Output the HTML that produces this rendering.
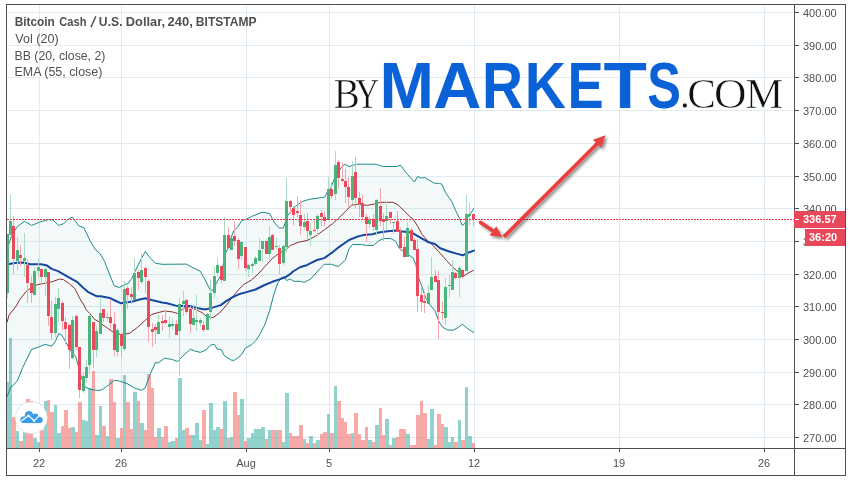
<!DOCTYPE html>
<html><head><meta charset="utf-8"><title>BCH/USD</title>
<style>html,body{margin:0;padding:0;background:#fff;}body{width:852px;height:482px;position:relative;overflow:hidden;font-family:"Liberation Sans",sans-serif;}</style></head>
<body>
<svg width="852" height="482" viewBox="0 0 852 482" style="position:absolute;left:0;top:0;opacity:0.999">
<defs><clipPath id="plot"><rect x="7" y="5" width="787" height="443"/></clipPath><filter id="sh" x="-20%" y="-20%" width="140%" height="140%"><feGaussianBlur in="SourceAlpha" stdDeviation="1.5"/><feOffset dx="1.5" dy="2" result="b"/><feComponentTransfer><feFuncA type="linear" slope="0.45"/></feComponentTransfer><feMerge><feMergeNode/><feMergeNode in="SourceGraphic"/></feMerge></filter><filter id="sh2" x="-20%" y="-20%" width="140%" height="140%"><feGaussianBlur in="SourceAlpha" stdDeviation="1"/><feOffset dx="0" dy="0.5"/><feComponentTransfer><feFuncA type="linear" slope="0.3"/></feComponentTransfer><feMerge><feMergeNode/><feMergeNode in="SourceGraphic"/></feMerge></filter></defs>
<rect width="852" height="482" fill="#fff"/>
<g shape-rendering="crispEdges" fill="#e1ecf2">
<rect x="8" y="12" width="785" height="1"/>
<rect x="8" y="45" width="785" height="1"/>
<rect x="8" y="77" width="785" height="1"/>
<rect x="8" y="110" width="785" height="1"/>
<rect x="8" y="143" width="785" height="1"/>
<rect x="8" y="176" width="785" height="1"/>
<rect x="8" y="208" width="785" height="1"/>
<rect x="8" y="241" width="785" height="1"/>
<rect x="8" y="274" width="785" height="1"/>
<rect x="8" y="306" width="785" height="1"/>
<rect x="8" y="339" width="785" height="1"/>
<rect x="8" y="372" width="785" height="1"/>
<rect x="8" y="404" width="785" height="1"/>
<rect x="8" y="437" width="785" height="1"/>
<rect x="39" y="5" width="1" height="443"/>
<rect x="121" y="5" width="1" height="443"/>
<rect x="246" y="5" width="1" height="443"/>
<rect x="329" y="5" width="1" height="443"/>
<rect x="474" y="5" width="1" height="443"/>
<rect x="619" y="5" width="1" height="443"/>
<rect x="764" y="5" width="1" height="443"/>
</g>
<g clip-path="url(#plot)">
<path d="M7.0,248.0 L8.4,245.2 L11.6,236.2 L14.8,230.3 L17.4,226.5 L24.5,221.3 L31.6,225.4 L40.0,222.0 L48.4,219.6 L52.9,220.0 L58.7,225.4 L63.9,223.6 L68.4,219.1 L72.3,217.0 L78.8,225.8 L83.9,227.8 L90.4,241.3 L95.5,249.7 L100.0,253.6 L104.6,261.3 L106.5,266.5 L114.2,285.8 L119.4,287.5 L124.5,284.5 L127.8,283.9 L131.6,278.7 L135.5,270.3 L141.3,258.7 L145.4,251.4 L149.1,256.8 L155.5,263.2 L162.0,264.3 L186.5,264.1 L193.0,267.8 L200.1,271.0 L205.2,279.9 L210.3,290.2 L212.9,290.2 L216.8,282.4 L220.7,275.3 L225.8,252.7 L228.4,247.6 L229.7,241.6 L233.6,230.7 L237.4,227.4 L242.0,220.3 L245.8,219.4 L251.6,216.5 L262.0,212.2 L269.7,213.5 L274.2,222.3 L279.4,228.1 L283.3,228.1 L287.8,215.2 L295.5,206.1 L303.3,201.0 L309.7,199.3 L324.5,197.1 L327.8,191.3 L331.0,187.4 L334.9,177.1 L341.3,167.4 L345.2,164.2 L349.1,166.5 L356.8,164.2 L376.2,164.2 L382.6,166.5 L396.8,166.5 L400.5,165.2 L407.3,174.2 L414.4,182.0 L417.6,176.4 L421.5,178.1 L424.7,177.4 L434.4,183.3 L439.5,183.3 L442.1,184.5 L445.4,192.3 L451.8,201.5 L455.7,210.7 L459.6,218.4 L462.1,225.3 L464.7,223.6 L467.3,217.8 L470.5,213.9 L473.8,208.1 L474.0,332.6 L468.6,329.4 L462.4,324.2 L458.3,327.4 L453.1,330.3 L447.9,330.0 L442.8,327.4 L438.9,321.6 L435.0,310.7 L429.9,304.8 L426.0,298.5 L422.1,287.0 L418.9,278.6 L415.7,264.4 L413.1,257.9 L409.2,255.3 L404.0,252.1 L398.9,247.6 L395.5,241.1 L390.4,238.5 L383.9,238.5 L378.9,240.7 L373.4,245.4 L366.6,245.5 L361.5,244.5 L352.5,244.5 L348.7,249.5 L345.5,260.0 L338.4,266.5 L331.3,264.3 L324.2,264.3 L317.8,271.0 L310.7,279.0 L304.2,282.4 L300.3,281.3 L293.9,281.3 L290.4,279.0 L286.5,280.5 L283.7,276.6 L280.7,278.6 L277.5,283.7 L273.6,295.2 L269.7,310.5 L264.6,325.3 L259.5,335.0 L255.7,340.6 L252.0,344.4 L245.4,348.1 L241.2,355.2 L234.1,360.4 L231.3,360.2 L224.3,355.7 L221.0,349.3 L217.2,349.3 L214.4,344.2 L210.2,345.3 L206.0,350.0 L200.3,352.4 L194.7,351.0 L190.4,349.2 L183.9,355.0 L177.5,361.5 L172.3,359.5 L164.6,358.2 L158.1,363.1 L155.5,362.4 L150.4,373.7 L145.2,387.9 L141.3,390.3 L134.9,388.2 L127.1,383.7 L119.4,381.1 L114.2,380.4 L109.7,384.2 L106.5,386.6 L103.3,389.0 L100.0,390.4 L96.8,390.4 L90.4,389.3 L85.2,387.1 L81.3,377.4 L78.5,366.5 L75.5,356.3 L70.4,350.5 L64.6,339.9 L62.0,335.3 L58.7,333.4 L55.5,341.2 L51.6,346.3 L45.2,344.3 L38.7,347.0 L31.6,349.4 L22.6,367.8 L17.4,380.7 L12.9,385.8 L11.0,386.5 L7.1,396.8Z" fill="#0a8080" fill-opacity="0.05"/>
<g shape-rendering="crispEdges">
<rect x="6" y="382" width="3" height="66" fill="rgba(38,166,154,0.5)"/>
<rect x="9" y="338" width="3" height="110" fill="rgba(38,166,154,0.5)"/>
<rect x="12" y="417" width="4" height="31" fill="rgba(239,83,80,0.5)"/>
<rect x="16" y="431" width="3" height="17" fill="rgba(38,166,154,0.5)"/>
<rect x="19" y="441" width="4" height="7" fill="rgba(239,83,80,0.5)"/>
<rect x="23" y="432" width="3" height="16" fill="rgba(38,166,154,0.5)"/>
<rect x="26" y="399" width="4" height="49" fill="rgba(239,83,80,0.5)"/>
<rect x="30" y="401" width="3" height="47" fill="rgba(239,83,80,0.5)"/>
<rect x="33" y="438" width="4" height="10" fill="rgba(38,166,154,0.5)"/>
<rect x="37" y="442" width="3" height="6" fill="rgba(38,166,154,0.5)"/>
<rect x="40" y="430" width="4" height="18" fill="rgba(239,83,80,0.5)"/>
<rect x="44" y="401" width="3" height="47" fill="rgba(38,166,154,0.5)"/>
<rect x="47" y="400" width="3" height="48" fill="rgba(239,83,80,0.5)"/>
<rect x="50" y="412" width="4" height="36" fill="rgba(239,83,80,0.5)"/>
<rect x="54" y="405" width="3" height="43" fill="rgba(38,166,154,0.5)"/>
<rect x="57" y="433" width="4" height="15" fill="rgba(38,166,154,0.5)"/>
<rect x="61" y="426" width="3" height="22" fill="rgba(239,83,80,0.5)"/>
<rect x="64" y="410" width="4" height="38" fill="rgba(239,83,80,0.5)"/>
<rect x="68" y="428" width="3" height="20" fill="rgba(239,83,80,0.5)"/>
<rect x="71" y="427" width="4" height="21" fill="rgba(38,166,154,0.5)"/>
<rect x="75" y="432" width="3" height="16" fill="rgba(239,83,80,0.5)"/>
<rect x="78" y="402" width="4" height="46" fill="rgba(239,83,80,0.5)"/>
<rect x="82" y="420" width="3" height="28" fill="rgba(38,166,154,0.5)"/>
<rect x="85" y="421" width="3" height="27" fill="rgba(38,166,154,0.5)"/>
<rect x="88" y="388" width="4" height="60" fill="rgba(38,166,154,0.5)"/>
<rect x="92" y="371" width="3" height="77" fill="rgba(239,83,80,0.5)"/>
<rect x="95" y="435" width="4" height="13" fill="rgba(38,166,154,0.5)"/>
<rect x="99" y="406" width="3" height="42" fill="rgba(38,166,154,0.5)"/>
<rect x="102" y="426" width="4" height="22" fill="rgba(239,83,80,0.5)"/>
<rect x="106" y="436" width="3" height="12" fill="rgba(38,166,154,0.5)"/>
<rect x="109" y="379" width="4" height="69" fill="rgba(239,83,80,0.5)"/>
<rect x="113" y="402" width="3" height="46" fill="rgba(239,83,80,0.5)"/>
<rect x="116" y="438" width="4" height="10" fill="rgba(38,166,154,0.5)"/>
<rect x="120" y="428" width="3" height="20" fill="rgba(239,83,80,0.5)"/>
<rect x="123" y="375" width="3" height="73" fill="rgba(38,166,154,0.5)"/>
<rect x="126" y="402" width="4" height="46" fill="rgba(239,83,80,0.5)"/>
<rect x="130" y="429" width="3" height="19" fill="rgba(239,83,80,0.5)"/>
<rect x="133" y="392" width="4" height="56" fill="rgba(38,166,154,0.5)"/>
<rect x="137" y="401" width="3" height="47" fill="rgba(239,83,80,0.5)"/>
<rect x="140" y="423" width="4" height="25" fill="rgba(38,166,154,0.5)"/>
<rect x="144" y="430" width="3" height="18" fill="rgba(239,83,80,0.5)"/>
<rect x="147" y="374" width="4" height="74" fill="rgba(239,83,80,0.5)"/>
<rect x="151" y="388" width="3" height="60" fill="rgba(239,83,80,0.5)"/>
<rect x="154" y="437" width="3" height="11" fill="rgba(239,83,80,0.5)"/>
<rect x="157" y="428" width="4" height="20" fill="rgba(38,166,154,0.5)"/>
<rect x="161" y="437" width="3" height="11" fill="rgba(239,83,80,0.5)"/>
<rect x="164" y="426" width="4" height="22" fill="rgba(239,83,80,0.5)"/>
<rect x="168" y="442" width="3" height="6" fill="rgba(38,166,154,0.5)"/>
<rect x="171" y="441" width="4" height="7" fill="rgba(38,166,154,0.5)"/>
<rect x="175" y="438" width="3" height="10" fill="rgba(239,83,80,0.5)"/>
<rect x="178" y="378" width="4" height="70" fill="rgba(38,166,154,0.5)"/>
<rect x="182" y="430" width="3" height="18" fill="rgba(38,166,154,0.5)"/>
<rect x="185" y="428" width="4" height="20" fill="rgba(239,83,80,0.5)"/>
<rect x="189" y="435" width="3" height="13" fill="rgba(239,83,80,0.5)"/>
<rect x="192" y="435" width="3" height="13" fill="rgba(38,166,154,0.5)"/>
<rect x="195" y="423" width="4" height="25" fill="rgba(38,166,154,0.5)"/>
<rect x="199" y="440" width="3" height="8" fill="rgba(38,166,154,0.5)"/>
<rect x="202" y="410" width="4" height="38" fill="rgba(239,83,80,0.5)"/>
<rect x="206" y="444" width="3" height="4" fill="rgba(38,166,154,0.5)"/>
<rect x="209" y="403" width="4" height="45" fill="rgba(38,166,154,0.5)"/>
<rect x="213" y="430" width="3" height="18" fill="rgba(38,166,154,0.5)"/>
<rect x="216" y="427" width="4" height="21" fill="rgba(38,166,154,0.5)"/>
<rect x="220" y="429" width="3" height="19" fill="rgba(239,83,80,0.5)"/>
<rect x="223" y="401" width="4" height="47" fill="rgba(38,166,154,0.5)"/>
<rect x="227" y="438" width="3" height="10" fill="rgba(239,83,80,0.5)"/>
<rect x="230" y="437" width="3" height="11" fill="rgba(38,166,154,0.5)"/>
<rect x="233" y="392" width="4" height="56" fill="rgba(239,83,80,0.5)"/>
<rect x="237" y="415" width="3" height="33" fill="rgba(239,83,80,0.5)"/>
<rect x="240" y="399" width="4" height="49" fill="rgba(38,166,154,0.5)"/>
<rect x="244" y="441" width="3" height="7" fill="rgba(239,83,80,0.5)"/>
<rect x="247" y="438" width="4" height="10" fill="rgba(38,166,154,0.5)"/>
<rect x="251" y="433" width="3" height="15" fill="rgba(38,166,154,0.5)"/>
<rect x="254" y="429" width="4" height="19" fill="rgba(38,166,154,0.5)"/>
<rect x="258" y="429" width="3" height="19" fill="rgba(38,166,154,0.5)"/>
<rect x="261" y="427" width="4" height="21" fill="rgba(38,166,154,0.5)"/>
<rect x="265" y="439" width="3" height="9" fill="rgba(239,83,80,0.5)"/>
<rect x="268" y="430" width="3" height="18" fill="rgba(38,166,154,0.5)"/>
<rect x="271" y="430" width="4" height="18" fill="rgba(239,83,80,0.5)"/>
<rect x="275" y="430" width="3" height="18" fill="rgba(38,166,154,0.5)"/>
<rect x="278" y="430" width="4" height="18" fill="rgba(239,83,80,0.5)"/>
<rect x="282" y="442" width="3" height="6" fill="rgba(38,166,154,0.5)"/>
<rect x="285" y="393" width="4" height="55" fill="rgba(38,166,154,0.5)"/>
<rect x="289" y="433" width="3" height="15" fill="rgba(239,83,80,0.5)"/>
<rect x="292" y="436" width="4" height="12" fill="rgba(239,83,80,0.5)"/>
<rect x="296" y="436" width="3" height="12" fill="rgba(239,83,80,0.5)"/>
<rect x="299" y="425" width="4" height="23" fill="rgba(239,83,80,0.5)"/>
<rect x="303" y="439" width="3" height="9" fill="rgba(38,166,154,0.5)"/>
<rect x="306" y="443" width="3" height="5" fill="rgba(239,83,80,0.5)"/>
<rect x="309" y="436" width="4" height="12" fill="rgba(38,166,154,0.5)"/>
<rect x="313" y="443" width="3" height="5" fill="rgba(239,83,80,0.5)"/>
<rect x="316" y="440" width="4" height="8" fill="rgba(38,166,154,0.5)"/>
<rect x="320" y="434" width="3" height="14" fill="rgba(239,83,80,0.5)"/>
<rect x="323" y="432" width="4" height="16" fill="rgba(239,83,80,0.5)"/>
<rect x="327" y="414" width="3" height="34" fill="rgba(38,166,154,0.5)"/>
<rect x="330" y="433" width="4" height="15" fill="rgba(239,83,80,0.5)"/>
<rect x="334" y="386" width="3" height="62" fill="rgba(38,166,154,0.5)"/>
<rect x="337" y="401" width="4" height="47" fill="rgba(239,83,80,0.5)"/>
<rect x="341" y="418" width="3" height="30" fill="rgba(239,83,80,0.5)"/>
<rect x="344" y="422" width="3" height="26" fill="rgba(239,83,80,0.5)"/>
<rect x="347" y="434" width="4" height="14" fill="rgba(239,83,80,0.5)"/>
<rect x="351" y="433" width="3" height="15" fill="rgba(38,166,154,0.5)"/>
<rect x="354" y="413" width="4" height="35" fill="rgba(239,83,80,0.5)"/>
<rect x="358" y="434" width="3" height="14" fill="rgba(239,83,80,0.5)"/>
<rect x="361" y="440" width="4" height="8" fill="rgba(239,83,80,0.5)"/>
<rect x="365" y="427" width="3" height="21" fill="rgba(239,83,80,0.5)"/>
<rect x="368" y="440" width="4" height="8" fill="rgba(38,166,154,0.5)"/>
<rect x="372" y="442" width="3" height="6" fill="rgba(239,83,80,0.5)"/>
<rect x="375" y="425" width="4" height="23" fill="rgba(38,166,154,0.5)"/>
<rect x="379" y="408" width="3" height="40" fill="rgba(239,83,80,0.5)"/>
<rect x="382" y="435" width="3" height="13" fill="rgba(239,83,80,0.5)"/>
<rect x="385" y="419" width="4" height="29" fill="rgba(38,166,154,0.5)"/>
<rect x="389" y="445" width="3" height="3" fill="rgba(239,83,80,0.5)"/>
<rect x="392" y="438" width="4" height="10" fill="rgba(38,166,154,0.5)"/>
<rect x="396" y="437" width="3" height="11" fill="rgba(239,83,80,0.5)"/>
<rect x="399" y="429" width="4" height="19" fill="rgba(239,83,80,0.5)"/>
<rect x="403" y="429" width="3" height="19" fill="rgba(239,83,80,0.5)"/>
<rect x="406" y="434" width="4" height="14" fill="rgba(38,166,154,0.5)"/>
<rect x="410" y="445" width="3" height="3" fill="rgba(239,83,80,0.5)"/>
<rect x="413" y="445" width="3" height="3" fill="rgba(239,83,80,0.5)"/>
<rect x="416" y="415" width="4" height="33" fill="rgba(239,83,80,0.5)"/>
<rect x="420" y="401" width="3" height="47" fill="rgba(239,83,80,0.5)"/>
<rect x="423" y="413" width="4" height="35" fill="rgba(239,83,80,0.5)"/>
<rect x="427" y="439" width="3" height="9" fill="rgba(38,166,154,0.5)"/>
<rect x="430" y="409" width="4" height="39" fill="rgba(38,166,154,0.5)"/>
<rect x="434" y="445" width="3" height="3" fill="rgba(239,83,80,0.5)"/>
<rect x="437" y="414" width="4" height="34" fill="rgba(239,83,80,0.5)"/>
<rect x="441" y="424" width="3" height="24" fill="rgba(239,83,80,0.5)"/>
<rect x="444" y="427" width="4" height="21" fill="rgba(38,166,154,0.5)"/>
<rect x="448" y="442" width="3" height="6" fill="rgba(38,166,154,0.5)"/>
<rect x="451" y="437" width="3" height="11" fill="rgba(38,166,154,0.5)"/>
<rect x="454" y="442" width="4" height="6" fill="rgba(239,83,80,0.5)"/>
<rect x="458" y="420" width="3" height="28" fill="rgba(38,166,154,0.5)"/>
<rect x="461" y="440" width="4" height="8" fill="rgba(239,83,80,0.5)"/>
<rect x="465" y="387" width="3" height="61" fill="rgba(38,166,154,0.5)"/>
<rect x="468" y="436" width="4" height="12" fill="rgba(38,166,154,0.5)"/>
<rect x="472" y="443" width="3" height="5" fill="rgba(239,83,80,0.5)"/>
</g>
<path d="M7.0,248.0 L8.4,245.2 L11.6,236.2 L14.8,230.3 L17.4,226.5 L24.5,221.3 L31.6,225.4 L40.0,222.0 L48.4,219.6 L52.9,220.0 L58.7,225.4 L63.9,223.6 L68.4,219.1 L72.3,217.0 L78.8,225.8 L83.9,227.8 L90.4,241.3 L95.5,249.7 L100.0,253.6 L104.6,261.3 L106.5,266.5 L114.2,285.8 L119.4,287.5 L124.5,284.5 L127.8,283.9 L131.6,278.7 L135.5,270.3 L141.3,258.7 L145.4,251.4 L149.1,256.8 L155.5,263.2 L162.0,264.3 L186.5,264.1 L193.0,267.8 L200.1,271.0 L205.2,279.9 L210.3,290.2 L212.9,290.2 L216.8,282.4 L220.7,275.3 L225.8,252.7 L228.4,247.6 L229.7,241.6 L233.6,230.7 L237.4,227.4 L242.0,220.3 L245.8,219.4 L251.6,216.5 L262.0,212.2 L269.7,213.5 L274.2,222.3 L279.4,228.1 L283.3,228.1 L287.8,215.2 L295.5,206.1 L303.3,201.0 L309.7,199.3 L324.5,197.1 L327.8,191.3 L331.0,187.4 L334.9,177.1 L341.3,167.4 L345.2,164.2 L349.1,166.5 L356.8,164.2 L376.2,164.2 L382.6,166.5 L396.8,166.5 L400.5,165.2 L407.3,174.2 L414.4,182.0 L417.6,176.4 L421.5,178.1 L424.7,177.4 L434.4,183.3 L439.5,183.3 L442.1,184.5 L445.4,192.3 L451.8,201.5 L455.7,210.7 L459.6,218.4 L462.1,225.3 L464.7,223.6 L467.3,217.8 L470.5,213.9 L473.8,208.1" fill="none" stroke="#1f8a8c" stroke-width="1" stroke-linejoin="round"/>
<path d="M7.1,396.8 L11.0,386.5 L12.9,385.8 L17.4,380.7 L22.6,367.8 L31.6,349.4 L38.7,347.0 L45.2,344.3 L51.6,346.3 L55.5,341.2 L58.7,333.4 L62.0,335.3 L64.6,339.9 L70.4,350.5 L75.5,356.3 L78.5,366.5 L81.3,377.4 L85.2,387.1 L90.4,389.3 L96.8,390.4 L100.0,390.4 L103.3,389.0 L106.5,386.6 L109.7,384.2 L114.2,380.4 L119.4,381.1 L127.1,383.7 L134.9,388.2 L141.3,390.3 L145.2,387.9 L150.4,373.7 L155.5,362.4 L158.1,363.1 L164.6,358.2 L172.3,359.5 L177.5,361.5 L183.9,355.0 L190.4,349.2 L194.7,351.0 L200.3,352.4 L206.0,350.0 L210.2,345.3 L214.4,344.2 L217.2,349.3 L221.0,349.3 L224.3,355.7 L231.3,360.2 L234.1,360.4 L241.2,355.2 L245.4,348.1 L252.0,344.4 L255.7,340.6 L259.5,335.0 L264.6,325.3 L269.7,310.5 L273.6,295.2 L277.5,283.7 L280.7,278.6 L283.7,276.6 L286.5,280.5 L290.4,279.0 L293.9,281.3 L300.3,281.3 L304.2,282.4 L310.7,279.0 L317.8,271.0 L324.2,264.3 L331.3,264.3 L338.4,266.5 L345.5,260.0 L348.7,249.5 L352.5,244.5 L361.5,244.5 L366.6,245.5 L373.4,245.4 L378.9,240.7 L383.9,238.5 L390.4,238.5 L395.5,241.1 L398.9,247.6 L404.0,252.1 L409.2,255.3 L413.1,257.9 L415.7,264.4 L418.9,278.6 L422.1,287.0 L426.0,298.5 L429.9,304.8 L435.0,310.7 L438.9,321.6 L442.8,327.4 L447.9,330.0 L453.1,330.3 L458.3,327.4 L462.4,324.2 L468.6,329.4 L474.0,332.6" fill="none" stroke="#1f8a8c" stroke-width="1" stroke-linejoin="round"/>
<path d="M7.1,322.4 L8.8,315.7 L11.6,311.5 L12.9,310.5 L16.8,305.0 L19.4,300.2 L25.8,291.8 L31.6,287.3 L37.4,284.7 L43.9,283.4 L51.6,281.9 L59.4,279.1 L63.3,279.5 L69.7,284.0 L74.9,288.6 L80.0,298.9 L83.9,305.0 L85.9,309.2 L87.8,311.5 L91.7,315.7 L94.3,319.2 L100.0,322.3 L102.0,324.4 L106.5,327.4 L112.9,332.0 L120.7,334.5 L129.7,333.3 L137.4,327.4 L145.2,320.3 L151.6,314.5 L158.1,312.6 L164.6,311.0 L172.3,311.9 L177.5,313.5 L183.9,308.1 L189.1,306.8 L195.5,309.4 L202.0,312.6 L206.5,316.3 L212.9,317.6 L219.4,313.1 L225.8,306.0 L232.3,297.3 L238.7,289.5 L243.9,284.4 L251.6,279.9 L258.1,274.1 L264.6,266.9 L272.3,258.6 L278.8,253.4 L285.2,250.1 L290.4,245.5 L298.1,242.3 L307.7,240.3 L315.5,236.2 L324.5,229.7 L332.3,223.9 L338.7,218.1 L345.2,211.6 L351.6,205.1 L359.4,204.1 L367.1,205.4 L373.6,204.1 L380.1,202.3 L393.0,202.3 L398.1,205.0 L404.6,211.3 L409.7,216.5 L413.1,219.1 L417.6,226.2 L422.1,234.5 L427.3,240.4 L432.8,245.2 L438.5,251.5 L446.6,260.5 L451.8,266.3 L458.3,272.1 L464.1,275.7 L468.6,272.8 L473.8,270.2" fill="none" stroke="#8a2f2f" stroke-width="1" stroke-linejoin="round"/>
<path d="M7.0,264.3 L9.0,264.0 L16.8,262.7 L23.2,262.5 L30.3,264.3 L41.3,264.3 L47.1,265.6 L51.6,268.9 L58.1,271.1 L67.1,276.3 L77.5,282.1 L82.6,287.3 L87.8,291.8 L96.8,296.3 L100.7,296.2 L109.7,298.0 L118.1,302.0 L120.7,303.2 L132.3,301.6 L138.7,299.8 L145.2,298.3 L151.6,300.0 L162.0,302.5 L167.1,303.3 L177.5,306.1 L190.4,306.1 L198.1,308.1 L203.3,309.3 L206.5,309.2 L214.2,307.1 L220.7,305.1 L225.8,301.4 L232.3,297.3 L238.7,294.3 L246.5,292.1 L255.5,289.5 L264.6,285.0 L272.3,281.8 L278.8,279.6 L285.2,277.3 L290.0,274.2 L293.0,271.5 L300.5,267.0 L306.8,265.2 L309.7,263.7 L317.1,260.0 L324.2,258.1 L329.7,254.2 L332.6,252.3 L338.9,247.1 L349.1,240.0 L356.8,236.8 L363.3,235.1 L372.3,234.2 L378.8,232.5 L387.8,231.2 L395.5,230.6 L402.7,231.6 L411.8,232.6 L420.8,237.8 L428.6,242.3 L435.0,244.0 L440.2,248.2 L449.2,251.5 L455.7,253.4 L462.8,255.3 L467.3,253.0 L474.0,250.6" fill="none" stroke="#17479e" stroke-width="2" stroke-linejoin="round" stroke-linecap="round"/>
<g shape-rendering="crispEdges">
<rect x="7" y="234" width="1" height="64" fill="#a9dcc3"/>
<rect x="6" y="234" width="3" height="59" fill="#4bb47d"/>
<rect x="10" y="195" width="1" height="40" fill="#a9dcc3"/>
<rect x="9" y="221" width="3" height="14" fill="#4bb47d"/>
<rect x="13" y="216" width="1" height="58" fill="#f5a6ae"/>
<rect x="12" y="226" width="3" height="33" fill="#ea4a5b"/>
<rect x="17" y="237" width="1" height="34" fill="#a9dcc3"/>
<rect x="16" y="250" width="3" height="11" fill="#4bb47d"/>
<rect x="20" y="245" width="1" height="21" fill="#f5a6ae"/>
<rect x="19" y="255" width="3" height="3" fill="#ea4a5b"/>
<rect x="24" y="233" width="1" height="44" fill="#a9dcc3"/>
<rect x="23" y="258" width="3" height="3" fill="#4bb47d"/>
<rect x="27" y="259" width="1" height="44" fill="#f5a6ae"/>
<rect x="26" y="265" width="3" height="18" fill="#ea4a5b"/>
<rect x="31" y="276" width="1" height="27" fill="#f5a6ae"/>
<rect x="30" y="283" width="3" height="10" fill="#ea4a5b"/>
<rect x="34" y="267" width="1" height="28" fill="#a9dcc3"/>
<rect x="33" y="271" width="3" height="24" fill="#4bb47d"/>
<rect x="38" y="258" width="1" height="19" fill="#a9dcc3"/>
<rect x="37" y="267" width="3" height="4" fill="#4bb47d"/>
<rect x="41" y="269" width="1" height="15" fill="#f5a6ae"/>
<rect x="40" y="269" width="3" height="8" fill="#ea4a5b"/>
<rect x="45" y="266" width="1" height="30" fill="#a9dcc3"/>
<rect x="44" y="269" width="3" height="8" fill="#4bb47d"/>
<rect x="48" y="272" width="1" height="54" fill="#f5a6ae"/>
<rect x="47" y="272" width="3" height="44" fill="#ea4a5b"/>
<rect x="51" y="301" width="1" height="39" fill="#f5a6ae"/>
<rect x="50" y="317" width="3" height="16" fill="#ea4a5b"/>
<rect x="55" y="297" width="1" height="40" fill="#a9dcc3"/>
<rect x="54" y="304" width="3" height="29" fill="#4bb47d"/>
<rect x="58" y="288" width="1" height="34" fill="#a9dcc3"/>
<rect x="57" y="298" width="3" height="11" fill="#4bb47d"/>
<rect x="62" y="301" width="1" height="29" fill="#f5a6ae"/>
<rect x="61" y="303" width="3" height="18" fill="#ea4a5b"/>
<rect x="65" y="317" width="1" height="27" fill="#f5a6ae"/>
<rect x="64" y="322" width="3" height="7" fill="#ea4a5b"/>
<rect x="69" y="324" width="1" height="45" fill="#f5a6ae"/>
<rect x="68" y="325" width="3" height="25" fill="#ea4a5b"/>
<rect x="72" y="316" width="1" height="43" fill="#a9dcc3"/>
<rect x="71" y="320" width="3" height="38" fill="#4bb47d"/>
<rect x="76" y="315" width="1" height="35" fill="#f5a6ae"/>
<rect x="75" y="316" width="3" height="31" fill="#ea4a5b"/>
<rect x="79" y="347" width="1" height="51" fill="#f5a6ae"/>
<rect x="78" y="347" width="3" height="43" fill="#ea4a5b"/>
<rect x="83" y="372" width="1" height="21" fill="#a9dcc3"/>
<rect x="82" y="376" width="3" height="15" fill="#4bb47d"/>
<rect x="86" y="360" width="1" height="23" fill="#a9dcc3"/>
<rect x="85" y="367" width="3" height="11" fill="#4bb47d"/>
<rect x="89" y="313" width="1" height="61" fill="#a9dcc3"/>
<rect x="88" y="316" width="3" height="49" fill="#4bb47d"/>
<rect x="93" y="322" width="1" height="46" fill="#f5a6ae"/>
<rect x="92" y="322" width="3" height="28" fill="#ea4a5b"/>
<rect x="96" y="326" width="1" height="31" fill="#a9dcc3"/>
<rect x="95" y="331" width="3" height="19" fill="#4bb47d"/>
<rect x="100" y="297" width="1" height="37" fill="#a9dcc3"/>
<rect x="99" y="313" width="3" height="21" fill="#4bb47d"/>
<rect x="103" y="309" width="1" height="13" fill="#f5a6ae"/>
<rect x="102" y="309" width="3" height="9" fill="#ea4a5b"/>
<rect x="107" y="313" width="1" height="8" fill="#a9dcc3"/>
<rect x="106" y="317" width="3" height="1" fill="#4bb47d"/>
<rect x="110" y="299" width="1" height="31" fill="#f5a6ae"/>
<rect x="109" y="317" width="3" height="6" fill="#ea4a5b"/>
<rect x="114" y="312" width="1" height="44" fill="#f5a6ae"/>
<rect x="113" y="324" width="3" height="26" fill="#ea4a5b"/>
<rect x="117" y="328" width="1" height="29" fill="#a9dcc3"/>
<rect x="116" y="330" width="3" height="22" fill="#4bb47d"/>
<rect x="121" y="334" width="1" height="23" fill="#f5a6ae"/>
<rect x="120" y="334" width="3" height="12" fill="#ea4a5b"/>
<rect x="124" y="281" width="1" height="70" fill="#a9dcc3"/>
<rect x="123" y="289" width="3" height="60" fill="#4bb47d"/>
<rect x="127" y="286" width="1" height="23" fill="#f5a6ae"/>
<rect x="126" y="288" width="3" height="7" fill="#ea4a5b"/>
<rect x="131" y="287" width="1" height="17" fill="#f5a6ae"/>
<rect x="130" y="294" width="3" height="3" fill="#ea4a5b"/>
<rect x="134" y="258" width="1" height="42" fill="#a9dcc3"/>
<rect x="133" y="273" width="3" height="27" fill="#4bb47d"/>
<rect x="138" y="270" width="1" height="20" fill="#f5a6ae"/>
<rect x="137" y="272" width="3" height="6" fill="#ea4a5b"/>
<rect x="141" y="253" width="1" height="31" fill="#a9dcc3"/>
<rect x="140" y="270" width="3" height="12" fill="#4bb47d"/>
<rect x="145" y="267" width="1" height="26" fill="#f5a6ae"/>
<rect x="144" y="268" width="3" height="9" fill="#ea4a5b"/>
<rect x="148" y="279" width="1" height="63" fill="#f5a6ae"/>
<rect x="147" y="281" width="3" height="46" fill="#ea4a5b"/>
<rect x="152" y="323" width="1" height="24" fill="#f5a6ae"/>
<rect x="151" y="329" width="3" height="3" fill="#ea4a5b"/>
<rect x="155" y="324" width="1" height="20" fill="#f5a6ae"/>
<rect x="154" y="327" width="3" height="3" fill="#ea4a5b"/>
<rect x="158" y="315" width="1" height="19" fill="#a9dcc3"/>
<rect x="157" y="322" width="3" height="12" fill="#4bb47d"/>
<rect x="162" y="315" width="1" height="16" fill="#f5a6ae"/>
<rect x="161" y="321" width="3" height="2" fill="#ea4a5b"/>
<rect x="165" y="311" width="1" height="13" fill="#f5a6ae"/>
<rect x="164" y="320" width="3" height="3" fill="#ea4a5b"/>
<rect x="169" y="317" width="1" height="21" fill="#a9dcc3"/>
<rect x="168" y="324" width="3" height="3" fill="#4bb47d"/>
<rect x="172" y="318" width="1" height="12" fill="#a9dcc3"/>
<rect x="171" y="324" width="3" height="2" fill="#4bb47d"/>
<rect x="176" y="320" width="1" height="15" fill="#f5a6ae"/>
<rect x="175" y="324" width="3" height="11" fill="#ea4a5b"/>
<rect x="179" y="298" width="1" height="78" fill="#a9dcc3"/>
<rect x="178" y="304" width="3" height="27" fill="#4bb47d"/>
<rect x="183" y="291" width="1" height="25" fill="#a9dcc3"/>
<rect x="182" y="301" width="3" height="3" fill="#4bb47d"/>
<rect x="186" y="299" width="1" height="15" fill="#f5a6ae"/>
<rect x="185" y="300" width="3" height="12" fill="#ea4a5b"/>
<rect x="190" y="306" width="1" height="27" fill="#f5a6ae"/>
<rect x="189" y="309" width="3" height="15" fill="#ea4a5b"/>
<rect x="193" y="304" width="1" height="21" fill="#a9dcc3"/>
<rect x="192" y="318" width="3" height="7" fill="#4bb47d"/>
<rect x="196" y="295" width="1" height="36" fill="#a9dcc3"/>
<rect x="195" y="320" width="3" height="2" fill="#4bb47d"/>
<rect x="200" y="318" width="1" height="9" fill="#a9dcc3"/>
<rect x="199" y="320" width="3" height="3" fill="#4bb47d"/>
<rect x="203" y="321" width="1" height="11" fill="#f5a6ae"/>
<rect x="202" y="325" width="3" height="5" fill="#ea4a5b"/>
<rect x="207" y="313" width="1" height="17" fill="#a9dcc3"/>
<rect x="206" y="314" width="3" height="16" fill="#4bb47d"/>
<rect x="210" y="279" width="1" height="41" fill="#a9dcc3"/>
<rect x="209" y="293" width="3" height="19" fill="#4bb47d"/>
<rect x="214" y="267" width="1" height="31" fill="#a9dcc3"/>
<rect x="213" y="276" width="3" height="17" fill="#4bb47d"/>
<rect x="217" y="258" width="1" height="19" fill="#a9dcc3"/>
<rect x="216" y="265" width="3" height="8" fill="#4bb47d"/>
<rect x="221" y="266" width="1" height="17" fill="#f5a6ae"/>
<rect x="220" y="266" width="3" height="14" fill="#ea4a5b"/>
<rect x="224" y="217" width="1" height="64" fill="#a9dcc3"/>
<rect x="223" y="235" width="3" height="46" fill="#4bb47d"/>
<rect x="228" y="227" width="1" height="21" fill="#f5a6ae"/>
<rect x="227" y="235" width="3" height="13" fill="#ea4a5b"/>
<rect x="231" y="238" width="1" height="12" fill="#a9dcc3"/>
<rect x="230" y="238" width="3" height="12" fill="#4bb47d"/>
<rect x="234" y="221" width="1" height="25" fill="#f5a6ae"/>
<rect x="233" y="236" width="3" height="5" fill="#ea4a5b"/>
<rect x="238" y="238" width="1" height="31" fill="#f5a6ae"/>
<rect x="237" y="240" width="3" height="19" fill="#ea4a5b"/>
<rect x="241" y="242" width="1" height="18" fill="#a9dcc3"/>
<rect x="240" y="242" width="3" height="14" fill="#4bb47d"/>
<rect x="245" y="247" width="1" height="24" fill="#f5a6ae"/>
<rect x="244" y="247" width="3" height="21" fill="#ea4a5b"/>
<rect x="248" y="264" width="1" height="13" fill="#a9dcc3"/>
<rect x="247" y="265" width="3" height="4" fill="#4bb47d"/>
<rect x="252" y="263" width="1" height="10" fill="#a9dcc3"/>
<rect x="251" y="264" width="3" height="2" fill="#4bb47d"/>
<rect x="255" y="256" width="1" height="10" fill="#a9dcc3"/>
<rect x="254" y="258" width="3" height="6" fill="#4bb47d"/>
<rect x="259" y="238" width="1" height="23" fill="#a9dcc3"/>
<rect x="258" y="250" width="3" height="11" fill="#4bb47d"/>
<rect x="262" y="241" width="1" height="21" fill="#a9dcc3"/>
<rect x="261" y="241" width="3" height="8" fill="#4bb47d"/>
<rect x="266" y="241" width="1" height="13" fill="#f5a6ae"/>
<rect x="265" y="241" width="3" height="13" fill="#ea4a5b"/>
<rect x="269" y="226" width="1" height="34" fill="#a9dcc3"/>
<rect x="268" y="237" width="3" height="17" fill="#4bb47d"/>
<rect x="272" y="234" width="1" height="16" fill="#f5a6ae"/>
<rect x="271" y="235" width="3" height="15" fill="#ea4a5b"/>
<rect x="276" y="238" width="1" height="11" fill="#a9dcc3"/>
<rect x="275" y="246" width="3" height="1" fill="#4bb47d"/>
<rect x="279" y="245" width="1" height="29" fill="#f5a6ae"/>
<rect x="278" y="248" width="3" height="16" fill="#ea4a5b"/>
<rect x="283" y="245" width="1" height="20" fill="#a9dcc3"/>
<rect x="282" y="246" width="3" height="17" fill="#4bb47d"/>
<rect x="286" y="178" width="1" height="74" fill="#a9dcc3"/>
<rect x="285" y="201" width="3" height="46" fill="#4bb47d"/>
<rect x="290" y="200" width="1" height="14" fill="#f5a6ae"/>
<rect x="289" y="201" width="3" height="6" fill="#ea4a5b"/>
<rect x="293" y="206" width="1" height="19" fill="#f5a6ae"/>
<rect x="292" y="208" width="3" height="7" fill="#ea4a5b"/>
<rect x="297" y="196" width="1" height="22" fill="#f5a6ae"/>
<rect x="296" y="211" width="3" height="2" fill="#ea4a5b"/>
<rect x="300" y="200" width="1" height="35" fill="#f5a6ae"/>
<rect x="299" y="215" width="3" height="11" fill="#ea4a5b"/>
<rect x="304" y="214" width="1" height="16" fill="#a9dcc3"/>
<rect x="303" y="222" width="3" height="5" fill="#4bb47d"/>
<rect x="307" y="213" width="1" height="27" fill="#f5a6ae"/>
<rect x="306" y="221" width="3" height="10" fill="#ea4a5b"/>
<rect x="310" y="223" width="1" height="23" fill="#a9dcc3"/>
<rect x="309" y="231" width="3" height="4" fill="#4bb47d"/>
<rect x="314" y="219" width="1" height="13" fill="#f5a6ae"/>
<rect x="313" y="230" width="3" height="1" fill="#ea4a5b"/>
<rect x="317" y="214" width="1" height="21" fill="#a9dcc3"/>
<rect x="316" y="216" width="3" height="13" fill="#4bb47d"/>
<rect x="321" y="210" width="1" height="16" fill="#f5a6ae"/>
<rect x="320" y="213" width="3" height="4" fill="#ea4a5b"/>
<rect x="324" y="211" width="1" height="15" fill="#f5a6ae"/>
<rect x="323" y="217" width="3" height="4" fill="#ea4a5b"/>
<rect x="328" y="177" width="1" height="43" fill="#a9dcc3"/>
<rect x="327" y="189" width="3" height="31" fill="#4bb47d"/>
<rect x="331" y="182" width="1" height="17" fill="#f5a6ae"/>
<rect x="330" y="189" width="3" height="7" fill="#ea4a5b"/>
<rect x="335" y="151" width="1" height="49" fill="#a9dcc3"/>
<rect x="334" y="165" width="3" height="29" fill="#4bb47d"/>
<rect x="338" y="160" width="1" height="29" fill="#f5a6ae"/>
<rect x="337" y="162" width="3" height="16" fill="#ea4a5b"/>
<rect x="342" y="162" width="1" height="20" fill="#f5a6ae"/>
<rect x="341" y="179" width="3" height="2" fill="#ea4a5b"/>
<rect x="345" y="169" width="1" height="34" fill="#f5a6ae"/>
<rect x="344" y="181" width="3" height="6" fill="#ea4a5b"/>
<rect x="348" y="177" width="1" height="30" fill="#f5a6ae"/>
<rect x="347" y="187" width="3" height="10" fill="#ea4a5b"/>
<rect x="352" y="161" width="1" height="43" fill="#a9dcc3"/>
<rect x="351" y="176" width="3" height="24" fill="#4bb47d"/>
<rect x="355" y="157" width="1" height="51" fill="#f5a6ae"/>
<rect x="354" y="172" width="3" height="26" fill="#ea4a5b"/>
<rect x="359" y="192" width="1" height="25" fill="#f5a6ae"/>
<rect x="358" y="198" width="3" height="6" fill="#ea4a5b"/>
<rect x="362" y="195" width="1" height="24" fill="#f5a6ae"/>
<rect x="361" y="203" width="3" height="14" fill="#ea4a5b"/>
<rect x="366" y="214" width="1" height="28" fill="#f5a6ae"/>
<rect x="365" y="217" width="3" height="7" fill="#ea4a5b"/>
<rect x="369" y="216" width="1" height="12" fill="#a9dcc3"/>
<rect x="368" y="220" width="3" height="4" fill="#4bb47d"/>
<rect x="373" y="214" width="1" height="17" fill="#f5a6ae"/>
<rect x="372" y="219" width="3" height="8" fill="#ea4a5b"/>
<rect x="376" y="199" width="1" height="37" fill="#a9dcc3"/>
<rect x="375" y="200" width="3" height="30" fill="#4bb47d"/>
<rect x="380" y="188" width="1" height="38" fill="#f5a6ae"/>
<rect x="379" y="206" width="3" height="15" fill="#ea4a5b"/>
<rect x="383" y="213" width="1" height="28" fill="#f5a6ae"/>
<rect x="382" y="219" width="3" height="3" fill="#ea4a5b"/>
<rect x="386" y="202" width="1" height="27" fill="#a9dcc3"/>
<rect x="385" y="216" width="3" height="5" fill="#4bb47d"/>
<rect x="390" y="212" width="1" height="12" fill="#f5a6ae"/>
<rect x="389" y="212" width="3" height="6" fill="#ea4a5b"/>
<rect x="393" y="222" width="1" height="12" fill="#a9dcc3"/>
<rect x="392" y="222" width="3" height="1" fill="#4bb47d"/>
<rect x="397" y="211" width="1" height="21" fill="#f5a6ae"/>
<rect x="396" y="221" width="3" height="11" fill="#ea4a5b"/>
<rect x="400" y="228" width="1" height="23" fill="#f5a6ae"/>
<rect x="399" y="231" width="3" height="17" fill="#ea4a5b"/>
<rect x="404" y="236" width="1" height="21" fill="#f5a6ae"/>
<rect x="403" y="247" width="3" height="10" fill="#ea4a5b"/>
<rect x="407" y="222" width="1" height="35" fill="#a9dcc3"/>
<rect x="406" y="228" width="3" height="29" fill="#4bb47d"/>
<rect x="411" y="228" width="1" height="13" fill="#f5a6ae"/>
<rect x="410" y="230" width="3" height="11" fill="#ea4a5b"/>
<rect x="414" y="238" width="1" height="12" fill="#f5a6ae"/>
<rect x="413" y="240" width="3" height="10" fill="#ea4a5b"/>
<rect x="417" y="239" width="1" height="73" fill="#f5a6ae"/>
<rect x="416" y="249" width="3" height="47" fill="#ea4a5b"/>
<rect x="421" y="286" width="1" height="26" fill="#f5a6ae"/>
<rect x="420" y="295" width="3" height="7" fill="#ea4a5b"/>
<rect x="424" y="293" width="1" height="20" fill="#f5a6ae"/>
<rect x="423" y="301" width="3" height="2" fill="#ea4a5b"/>
<rect x="428" y="285" width="1" height="19" fill="#a9dcc3"/>
<rect x="427" y="293" width="3" height="11" fill="#4bb47d"/>
<rect x="431" y="257" width="1" height="33" fill="#a9dcc3"/>
<rect x="430" y="277" width="3" height="13" fill="#4bb47d"/>
<rect x="435" y="270" width="1" height="12" fill="#f5a6ae"/>
<rect x="434" y="276" width="3" height="6" fill="#ea4a5b"/>
<rect x="438" y="271" width="1" height="68" fill="#f5a6ae"/>
<rect x="437" y="280" width="3" height="32" fill="#ea4a5b"/>
<rect x="442" y="301" width="1" height="19" fill="#f5a6ae"/>
<rect x="441" y="312" width="3" height="1" fill="#ea4a5b"/>
<rect x="445" y="278" width="1" height="47" fill="#a9dcc3"/>
<rect x="444" y="287" width="3" height="31" fill="#4bb47d"/>
<rect x="449" y="275" width="1" height="23" fill="#a9dcc3"/>
<rect x="448" y="285" width="3" height="1" fill="#4bb47d"/>
<rect x="452" y="260" width="1" height="30" fill="#a9dcc3"/>
<rect x="451" y="272" width="3" height="18" fill="#4bb47d"/>
<rect x="455" y="272" width="1" height="7" fill="#f5a6ae"/>
<rect x="454" y="273" width="3" height="5" fill="#ea4a5b"/>
<rect x="459" y="266" width="1" height="31" fill="#a9dcc3"/>
<rect x="458" y="268" width="3" height="10" fill="#4bb47d"/>
<rect x="462" y="269" width="1" height="10" fill="#f5a6ae"/>
<rect x="461" y="270" width="3" height="7" fill="#ea4a5b"/>
<rect x="466" y="195" width="1" height="76" fill="#a9dcc3"/>
<rect x="465" y="214" width="3" height="57" fill="#4bb47d"/>
<rect x="469" y="203" width="1" height="22" fill="#a9dcc3"/>
<rect x="468" y="214" width="3" height="2" fill="#4bb47d"/>
<rect x="473" y="214" width="1" height="12" fill="#f5a6ae"/>
<rect x="472" y="214" width="3" height="5" fill="#ea4a5b"/>
</g>
</g>
<line x1="7" y1="219.5" x2="794" y2="219.5" stroke="#e8384f" stroke-width="1" stroke-dasharray="2 1"/>
<g filter="url(#sh)" fill="#e8423f" stroke="#e8423f">
<line x1="480.6" y1="222.5" x2="494" y2="231.5" stroke-width="3.8" stroke-linecap="round"/>
<polygon points="502.2,237.1 489.6,235.6 496.3,226.2" stroke="none"/>
<line x1="503.8" y1="236.9" x2="598" y2="142.8" stroke-width="3.8" stroke-linecap="butt"/>
<polygon points="605.5,135.3 592.9,139.8 601.4,148" stroke="none"/>
</g>
<circle cx="31.3" cy="417.8" r="16.6" fill="#000" fill-opacity="0.06"/>
<circle cx="31.3" cy="417.8" r="15.9" fill="#fff" stroke="#e6e6e6" stroke-width="0.8"/>
<g fill="#3a9be9"><circle cx="23.6" cy="419.8" r="3.3"/><circle cx="29" cy="415.2" r="4.2"/><circle cx="35.5" cy="416.2" r="2.8"/><circle cx="39.6" cy="420" r="3.1"/><rect x="23.6" y="416.5" width="16" height="6.6"/></g>
<path d="M21.3,421 L28.6,415.6 L34,420.8 L39.2,415.6" fill="none" stroke="#fff" stroke-width="1.2" stroke-linejoin="round"/>
<circle cx="28.6" cy="415.6" r="1.2" fill="#fff"/><circle cx="34" cy="420.8" r="1.2" fill="#fff"/>
<g shape-rendering="crispEdges" fill="#4e4e4e">
<rect x="6" y="4" width="840" height="1"/>
<rect x="6" y="475" width="840" height="1"/>
<rect x="6" y="4" width="1" height="472"/>
<rect x="845" y="4" width="1" height="472"/>
<rect x="794" y="4" width="1" height="472"/>
<rect x="6" y="448" width="840" height="1"/>
<rect x="795" y="12" width="4" height="1"/>
<rect x="795" y="45" width="4" height="1"/>
<rect x="795" y="77" width="4" height="1"/>
<rect x="795" y="110" width="4" height="1"/>
<rect x="795" y="143" width="4" height="1"/>
<rect x="795" y="176" width="4" height="1"/>
<rect x="795" y="208" width="4" height="1"/>
<rect x="795" y="241" width="4" height="1"/>
<rect x="795" y="274" width="4" height="1"/>
<rect x="795" y="306" width="4" height="1"/>
<rect x="795" y="339" width="4" height="1"/>
<rect x="795" y="372" width="4" height="1"/>
<rect x="795" y="404" width="4" height="1"/>
<rect x="795" y="437" width="4" height="1"/>
<rect x="39" y="449" width="1" height="3"/>
<rect x="121" y="449" width="1" height="3"/>
<rect x="246" y="449" width="1" height="3"/>
<rect x="329" y="449" width="1" height="3"/>
<rect x="474" y="449" width="1" height="3"/>
<rect x="619" y="449" width="1" height="3"/>
<rect x="764" y="449" width="1" height="3"/>
</g>
<g font-family="Liberation Sans, sans-serif" font-size="11" fill="#505050">
<text x="803" y="16.5">400.00</text>
<text x="803" y="49.5">390.00</text>
<text x="803" y="81.5">380.00</text>
<text x="803" y="114.5">370.00</text>
<text x="803" y="147.5">360.00</text>
<text x="803" y="180.5">350.00</text>
<text x="803" y="212.5">340.00</text>
<text x="803" y="245.5">330.00</text>
<text x="803" y="278.5">320.00</text>
<text x="803" y="310.5">310.00</text>
<text x="803" y="343.5">300.00</text>
<text x="803" y="376.5">290.00</text>
<text x="803" y="408.5">280.00</text>
<text x="803" y="441.5">270.00</text>
<text x="39" y="467" text-anchor="middle">22</text>
<text x="121" y="467" text-anchor="middle">26</text>
<text x="246" y="467" text-anchor="middle">Aug</text>
<text x="329" y="467" text-anchor="middle">5</text>
<text x="474" y="467" text-anchor="middle">12</text>
<text x="619" y="467" text-anchor="middle">19</text>
<text x="764" y="467" text-anchor="middle">26</text>
</g>
<g shape-rendering="crispEdges"><rect x="794" y="211" width="51" height="17" fill="#e8485a"/><rect x="805" y="229" width="40" height="17" fill="#e8485a"/><rect x="795" y="219" width="4" height="1" fill="#fff"/></g>
<g font-family="Liberation Sans, sans-serif" font-size="11" font-weight="bold" fill="#fff"><text x="803" y="223">336.57</text><text x="809" y="241">36:20</text></g>
<text transform="translate(15.50,25.5) scale(0.9893,1) translate(-0.84,0)" font-family="Liberation Sans, sans-serif" font-weight="bold" font-size="12" fill="#505050">Bitcoin</text>
<text transform="translate(59.70,25.5) scale(0.9295,1) translate(-0.48,0)" font-family="Liberation Sans, sans-serif" font-weight="bold" font-size="12" fill="#505050">Cash</text>
<text transform="translate(99.60,25.5) scale(1.0165,1) translate(-0.72,0)" font-family="Liberation Sans, sans-serif" font-weight="bold" font-size="12" fill="#505050">U.S.</text>
<text transform="translate(126.70,25.5) scale(1.0702,1) translate(-0.84,0)" font-family="Liberation Sans, sans-serif" font-weight="bold" font-size="12" fill="#505050">Dollar,</text>
<text transform="translate(168.00,25.5) scale(1.0811,1) translate(-0.36,0)" font-family="Liberation Sans, sans-serif" font-weight="bold" font-size="12" fill="#505050">240,</text>
<text transform="translate(196.70,25.5) scale(1.0057,1) translate(-0.84,0)" font-family="Liberation Sans, sans-serif" font-weight="bold" font-size="12" fill="#505050">BITSTAMP</text>
<line x1="90.9" y1="27.2" x2="95.8" y2="16.3" stroke="#505050" stroke-width="1.5"/>
<text transform="translate(15.50,42.7) scale(1.0460,1) translate(-0.12,0)" font-family="Liberation Sans, sans-serif" font-size="12" fill="#505050">Vol (20)</text>
<text transform="translate(15.50,59.7) scale(1.0253,1) translate(-0.96,0)" font-family="Liberation Sans, sans-serif" font-size="12" fill="#505050">BB (20, close, 2)</text>
<text transform="translate(15.50,76.3) scale(1.0381,1) translate(-0.96,0)" font-family="Liberation Sans, sans-serif" font-size="12" fill="#505050">EMA (55, close)</text>
<text transform="translate(384.20,107.7) scale(1.0128,1) translate(-4.52,0)" font-family="Liberation Sans, sans-serif" font-weight="bold" font-size="64.6" fill="#0b62d6">M</text>
<text transform="translate(435.20,107.7) scale(1.0320,1) translate(-1.94,0)" font-family="Liberation Sans, sans-serif" font-weight="bold" font-size="64.6" fill="#0b62d6">A</text>
<text transform="translate(486.10,107.7) scale(0.8797,1) translate(-4.52,0)" font-family="Liberation Sans, sans-serif" font-weight="bold" font-size="64.6" fill="#0b62d6">R</text>
<text transform="translate(528.80,107.7) scale(0.8828,1) translate(-4.52,0)" font-family="Liberation Sans, sans-serif" font-weight="bold" font-size="64.6" fill="#0b62d6">K</text>
<text transform="translate(571.40,107.7) scale(0.8403,1) translate(-4.52,0)" font-family="Liberation Sans, sans-serif" font-weight="bold" font-size="64.6" fill="#0b62d6">E</text>
<text transform="translate(604.30,107.7) scale(1.0993,1) translate(-0.65,0)" font-family="Liberation Sans, sans-serif" font-weight="bold" font-size="64.6" fill="#0b62d6">T</text>
<text transform="translate(648.70,107.7) scale(0.7817,1) translate(-1.94,0)" font-family="Liberation Sans, sans-serif" font-weight="bold" font-size="64.6" fill="#0b62d6">S</text>
<text transform="translate(335.00,107.9) scale(0.9278,1) translate(-1.27,0)" font-family="Liberation Serif, serif" font-size="42.2" fill="#111" stroke="#fff" stroke-width="0.6">B</text>
<text transform="translate(355.90,107.9) scale(0.7727,1) translate(-0.42,0)" font-family="Liberation Serif, serif" font-size="42.2" fill="#111" stroke="#fff" stroke-width="0.6">Y</text>
<text transform="translate(682.70,107.5) scale(0.9374,1) translate(-2.92,0)" font-family="Liberation Serif, serif" font-size="41.7" fill="#111" stroke="#fff" stroke-width="0.6">.</text>
<text transform="translate(689.10,107.5) scale(1.0350,1) translate(-1.67,0)" font-family="Liberation Serif, serif" font-size="41.7" fill="#111" stroke="#fff" stroke-width="0.6">C</text>
<text transform="translate(715.80,107.5) scale(1.0829,1) translate(-1.67,0)" font-family="Liberation Serif, serif" font-size="41.7" fill="#111" stroke="#fff" stroke-width="0.6">O</text>
<text transform="translate(746.80,107.5) scale(1.0170,1) translate(-1.25,0)" font-family="Liberation Serif, serif" font-size="41.7" fill="#111" stroke="#fff" stroke-width="0.6">M</text>
</svg>
</body></html>
